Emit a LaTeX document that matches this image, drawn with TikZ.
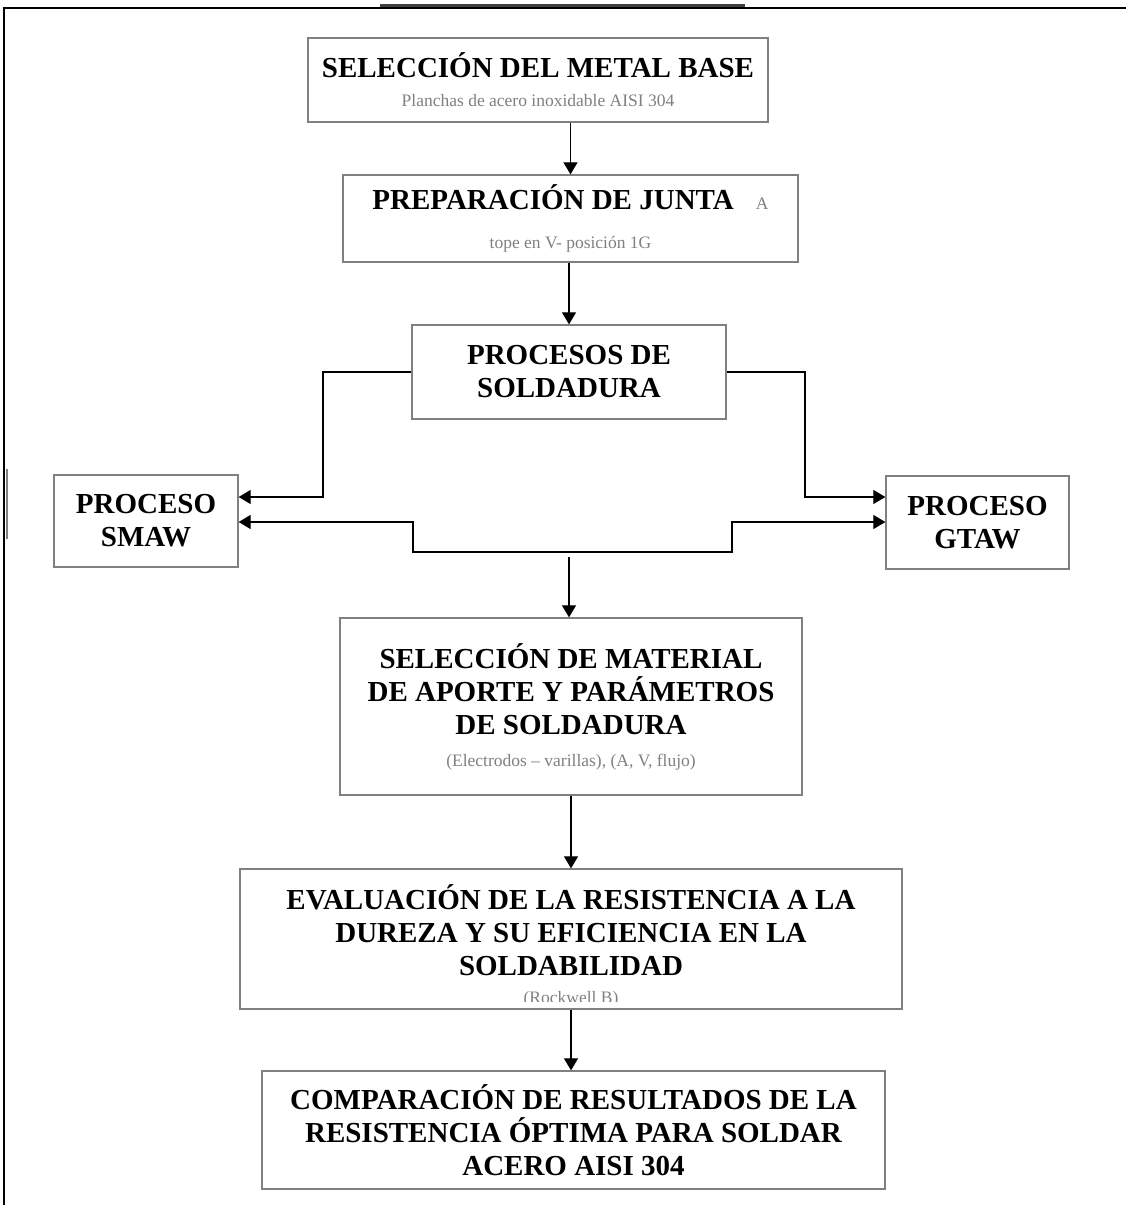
\documentclass[tikz,border=0pt]{standalone}
\usepackage{fontspec}
\setmainfont{Liberation Serif}
\usetikzlibrary{arrows.meta}
\definecolor{gris}{RGB}{128,128,128}
\newcommand{\nota}[1]{{\mdseries\fontsize{17.5}{21}\selectfont\color{gris}#1}}

\begin{document}
\begin{tikzpicture}[x=1pt,y=-1pt]
    \tikzstyle{box}=[draw=gris, line width=1.3pt, align=center, inner sep=0pt, font=\bfseries\fontsize{29}{33}\selectfont, text=black]
    \tikzstyle{edge}=[black, line width=1.2pt, -{Triangle[length=12pt,width=14pt]}]
    \useasboundingbox (0,0) rectangle (1126,1205);

    % marco de la pagina
    \draw[line width=2.2pt] (4,1205) -- (4,8) -- (1126,8);
    \draw[black!75, line width=3pt] (380,5) -- (745,5);
    \draw[gris, line width=2pt] (7,469) -- (7,539);

    \node[box, minimum width=460, minimum height=84] (metal) at (538,80)
        {SELECCIÓN DEL METAL BASE\\[-4pt]\nota{Planchas de acero inoxidable AISI 304}};
    \node[box, minimum width=455, minimum height=87] (junta) at (570.5,218.5)
        {PREPARACIÓN DE JUNTA\hspace{22pt}\nota{A}\\[6pt]\nota{tope en V- posición 1G}};
    \node[box, minimum width=314, minimum height=94] (procesos) at (569,372)
        {PROCESOS DE\\SOLDADURA};
    \node[box, minimum width=184, minimum height=92] (smaw) at (146,521)
        {PROCESO\\SMAW};
    \node[box, minimum width=183, minimum height=93] (gtaw) at (977.5,522.5)
        {PROCESO\\GTAW};
    \node[box, minimum width=462, minimum height=177] (aporte) at (571,706.5)
        {SELECCIÓN DE MATERIAL\\DE APORTE Y PARÁMETROS\\DE SOLDADURA\\[-1pt]\nota{(Electrodos – varillas), (A, V, flujo)}};
    \node[box, minimum width=662, minimum height=140] (dureza) at (571,939)
        {EVALUACIÓN DE LA RESISTENCIA A LA\\DUREZA Y SU EFICIENCIA EN LA\\SOLDABILIDAD\rule[-18pt]{0pt}{0pt}};
    \node[box, minimum width=623, minimum height=118] (comparacion) at (573.5,1130)
        {COMPARACIÓN DE RESULTADOS DE LA\\RESISTENCIA ÓPTIMA PARA SOLDAR\\ACERO AISI 304};

    % nota cortada por el borde inferior
    \begin{scope}
        \clip (dureza.north west) rectangle ([yshift=8pt]dureza.south east);
        \node[anchor=base, inner sep=0pt] (rockwell) at (571,1003) {\nota{(Rockwell B)}};
    \end{scope}

    % codos de las lineas
    \coordinate (ia) at (323,497);
    \coordinate (da) at (805,497);
    \coordinate (ib) at (413,552);
    \coordinate (db) at (732,552);
    \coordinate (cj) at (569,557);

    \draw[edge] (metal.south -| junta.north) -- (junta.north);
    \draw[edge] (junta.south -| procesos.north) -- (procesos.north);
    \draw[edge] (procesos.west) -| (ia) -- (ia -| smaw.east);
    \draw[edge] (procesos.east) -| (da) -- (da -| gtaw.west);
    \draw[edge, {Triangle[length=12pt,width=14pt]}-{Triangle[length=12pt,width=14pt]}]
        (smaw.east |- 0,522) -| (ib) -- (db) |- (gtaw.west |- 0,522);
    \draw[edge] (cj) -- (cj |- aporte.north);
    \draw[edge] (aporte.south) -- (dureza.north);
    \draw[edge] (dureza.south) -- (comparacion.north -| dureza.south);
\end{tikzpicture}
\end{document}
